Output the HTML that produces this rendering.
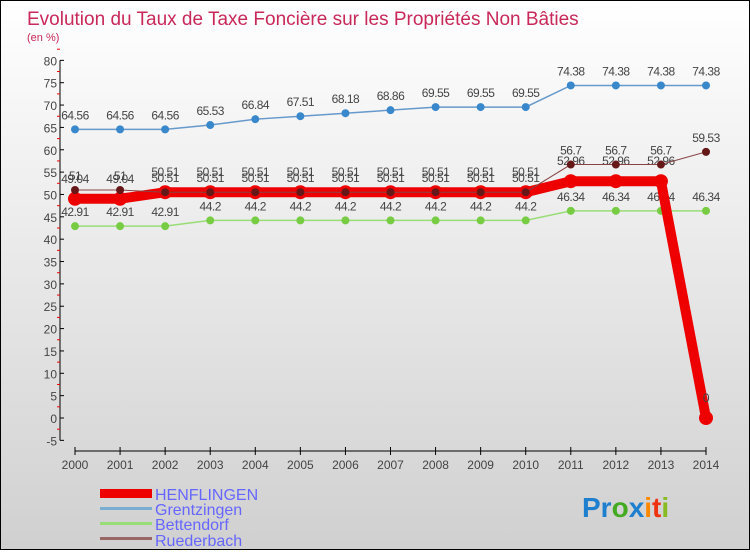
<!DOCTYPE html>
<html><head><meta charset="utf-8"><style>
html,body{margin:0;padding:0}
body{width:750px;height:550px;overflow:hidden;font-family:"Liberation Sans",sans-serif}
#wrap{position:relative;width:748px;height:548px;border:1px solid #000;background:linear-gradient(#ffffff,#d0d0d0)}
</style></head><body>
<div id="wrap">
<svg id="chart" width="748" height="548" xmlns="http://www.w3.org/2000/svg">
<text x="26" y="24" font-size="19" fill="#c8285a">Evolution du Taux de Taxe Foncière sur les Propriétés Non Bâties</text>
<text x="26" y="40" font-size="11" fill="#c8285a">(en %)</text>
<g id="axes"></g><g id="series"></g>
<g>
<rect x="99" y="488" width="52" height="9" fill="#ee0000"/>
<text x="154" y="499" font-size="16" fill="#6666ff">HENFLINGEN</text>
<rect x="99" y="506" width="52" height="3" fill="#7aaed0"/>
<text x="154" y="514" font-size="16" fill="#6666ff">Grentzingen</text>
<rect x="99" y="521" width="52" height="3" fill="#99dd77"/>
<text x="154" y="529" font-size="16" fill="#6666ff">Bettendorf</text>
<rect x="99" y="536" width="52" height="3" fill="#996666"/>
<text x="154" y="545" font-size="16" fill="#6666ff">Ruederbach</text>
</g>
<g font-size="28" font-weight="bold">
<text x="581" y="516"><tspan fill="#1f7fcf">Pr</tspan><tspan fill="#44aa22">o</tspan><tspan fill="#1f7fcf">x</tspan><tspan fill="#ff8800">i</tspan><tspan fill="#ee3311">t</tspan><tspan fill="#88bb22">i</tspan></text>
</g>
</svg></div>
<script>
const years=[2000,2001,2002,2003,2004,2005,2006,2007,2008,2009,2010,2011,2012,2013,2014];
const yTicks=[-5,0,5,10,15,20,25,30,35,40,45,50,55,60,65,70,75,80];
const henflingen=[49.04,49.04,50.51,50.51,50.51,50.51,50.51,50.51,50.51,50.51,50.51,52.96,52.96,52.96,0];
const grentzingen=[64.56,64.56,64.56,65.53,66.84,67.51,68.18,68.86,69.55,69.55,69.55,74.38,74.38,74.38,74.38];
const bettendorf=[42.91,42.91,42.91,44.2,44.2,44.2,44.2,44.2,44.2,44.2,44.2,46.34,46.34,46.34,46.34];
const ruederbach=[51,51,50.51,50.51,50.51,50.51,50.51,50.51,50.51,50.51,50.51,56.7,56.7,56.7,59.53];
const NS="http://www.w3.org/2000/svg";
const X=i=>74+i*(705-74)/(years.length-1);
const Y=v=>417-v*(380/85);
function mk(t,a,p){const e=document.createElementNS(NS,t);for(const k in a)e.setAttribute(k,a[k]);p.appendChild(e);return e;}
const ax=document.getElementById('axes');
let yl=mk('line',{x1:59,y1:Y(80),x2:59,y2:Y(-5),stroke:'#000'},ax);


yTicks.forEach(v=>{
 mk('line',{x1:59,x2:63,y1:Y(v),y2:Y(v),stroke:'#000'},ax);
 mk('line',{x1:56,x2:59,y1:Y(v+2.5),y2:Y(v+2.5),stroke:'#e00'},ax);
 const t=mk('text',{x:56,y:Y(v)+5,'font-size':12,fill:'#444','text-anchor':'end'},ax);t.textContent=v;
 
 
});
let xl=mk('line',{x1:X(0),x2:X(years.length-1),y1:450,y2:450,stroke:'#000'},ax);


years.forEach((y,i)=>{
 mk('line',{x1:X(i),x2:X(i),y1:446,y2:454,stroke:'#000'},ax);
 const t=mk('text',{x:X(i),y:468,'font-size':12,fill:'#444','text-anchor':'middle'},ax);t.textContent=y;
 
 
});
const sg=document.getElementById('series');
function series(name,data,color,w,r,dot,dy){
 const g=mk('g',{},sg);
 
 
 const p=mk('polyline',{points:data.map((v,i)=>X(i)+','+Y(v)).join(' '),fill:'none',stroke:color,'stroke-width':w},g);
 
 
 data.forEach((v,i)=>{
  const c=mk('circle',{cx:X(i),cy:Y(v),r:r,fill:dot},g);
  
  
  const t=mk('text',{x:X(i),y:Y(v)+dy,'font-size':12,fill:'#444','text-anchor':'middle','letter-spacing':'-0.5'},g);
  t.textContent=String(v);
  
  
 });
}
series('bettendorf',bettendorf,'#99dd77',1.5,4,'#77cc44',-10);
series('grentzingen',grentzingen,'#6699cc',1.5,4,'#3a88cc',-10);
series('henflingen',henflingen,'#ee0000',10,7,'#ee0000',-16);
series('ruederbach',ruederbach,'#884444',1,4,'#661818',-10);
</script>
</body></html>
